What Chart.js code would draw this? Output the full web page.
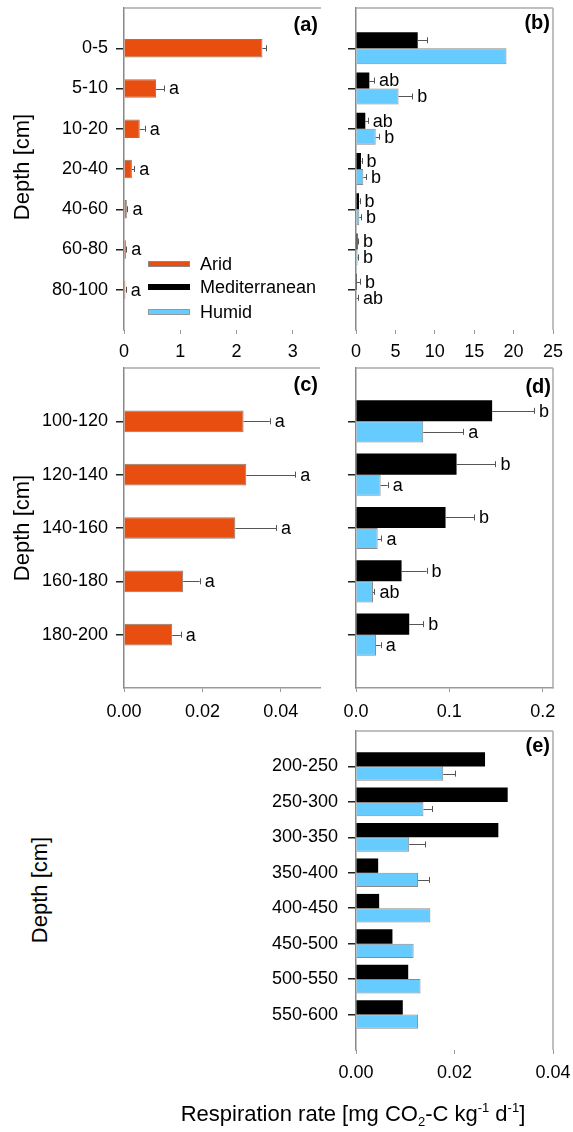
<!DOCTYPE html>
<html><head><meta charset="utf-8">
<script src="https://cdn.jsdelivr.net/npm/chart.js@4.4.1/dist/chart.umd.min.js"></script>
<style>
body{margin:0;background:#fff;}
#wrap{position:relative;width:573px;height:1132px;overflow:hidden;font-family:'Liberation Sans',Arial,sans-serif;color:#000;}
canvas{position:absolute;}
.t{position:absolute;white-space:nowrap;line-height:1;}
.ylab{font-size:22px;transform:translate(-50%,-50%) rotate(-90deg);}
.pl{font-size:20px;font-weight:bold;transform:translate(-100%,-50%);}
.lg{font-size:18px;transform:translate(0,-50%);}
.sw{position:absolute;width:42px;height:6px;box-sizing:border-box;}
.title{font-size:22px;transform:translate(-50%,-50%);}
.title sub{font-size:13px;vertical-align:-5px;}
.title sup{font-size:13px;vertical-align:9px;}
</style></head>
<body>
<div id="wrap">
<canvas id="ca"></canvas><canvas id="cb"></canvas><canvas id="cc"></canvas><canvas id="cd"></canvas><canvas id="ce"></canvas>
<div class="t ylab" style="left:22px;top:167px">Depth [cm]</div>
<div class="t ylab" style="left:22px;top:528px">Depth [cm]</div>
<div class="t ylab" style="left:40px;top:890px">Depth [cm]</div>
<div class="t pl" style="left:318px;top:24px">(a)</div>
<div class="t pl" style="left:550px;top:22px">(b)</div>
<div class="t pl" style="left:318px;top:384px">(c)</div>
<div class="t pl" style="left:551px;top:386px">(d)</div>
<div class="t pl" style="left:550px;top:745px">(e)</div>
<div class="sw" style="left:148px;top:261px;background:#E84E0F;border:1px solid #888"></div>
<div class="sw" style="left:148px;top:284px;background:#000"></div>
<div class="sw" style="left:148px;top:309px;background:#66CCFF;border:1px solid #999"></div>
<div class="t lg" style="left:200px;top:264px">Arid</div>
<div class="t lg" style="left:200px;top:287px">Mediterranean</div>
<div class="t lg" style="left:200px;top:312px">Humid</div>
<div class="t title" style="left:353px;top:1114px">Respiration rate [mg CO<sub>2</sub>-C kg<sup>-1</sup> d<sup>-1</sup>]</div>
</div>
<script>
const FONT = "'Liberation Sans', Arial, sans-serif";

// ---- data ----
const depthTop = ['0-5','5-10','10-20','20-40','40-60','60-80','80-100'];
const aridTop = [2.46, 0.57, 0.28, 0.14, 0.05, 0.035, 0.025];
const aridTopErr = [2.53, 0.71, 0.37, 0.18, 0.06, 0.04, 0.03];
const aridTopLet = ['', 'a', 'a', 'a', 'a', 'a', 'a'];
const medTop = [7.83, 1.69, 1.18, 0.63, 0.38, 0.2, 0.12];
const medTopErr = [9.05, 2.3, 1.5, 0.7, 0.45, 0.25, 0.5];
const medTopLet = ['', 'ab', 'ab', 'b', 'b', 'b', 'b'];
const humTop = [19.1, 5.4, 2.5, 0.93, 0.42, 0.2, 0.08];
const humTopErr = [null, 7.15, 2.96, 1.27, 0.65, 0.25, 0.25];
const humTopLet = ['', 'b', 'b', 'b', 'b', 'b', 'ab'];

const depthMid = ['100-120','120-140','140-160','160-180','180-200'];
const aridMid = [0.0305, 0.0312, 0.0284, 0.0151, 0.0123];
const aridMidErr = [0.0372, 0.0437, 0.0388, 0.0193, 0.0145];
const aridMidLet = ['a', 'a', 'a', 'a', 'a'];
const medMid = [0.1458, 0.1077, 0.0959, 0.0488, 0.057];
const medMidErr = [0.1907, 0.1494, 0.1265, 0.0756, 0.072];
const medMidLet = ['b', 'b', 'b', 'b', 'b'];
const humMid = [0.072, 0.0264, 0.0232, 0.0182, 0.0214];
const humMidErr = [0.1148, 0.0339, 0.0273, 0.0198, 0.0264];
const humMidLet = ['a', 'a', 'a', 'ab', 'a'];

const depthDeep = ['200-250','250-300','300-350','350-400','400-450','450-500','500-550','550-600'];
const medDeep = [0.0262, 0.0308, 0.0289, 0.0045, 0.0047, 0.0074, 0.0106, 0.0095];
const humDeep = [0.0177, 0.0137, 0.0108, 0.0126, 0.0151, 0.0117, 0.0131, 0.0126];
const humDeepErr = [0.0202, 0.0154, 0.0141, 0.0148, null, null, null, null];

const ticksA = [0, 1, 2, 3];
const ticksB = [0, 5, 10, 15, 20, 25];
const ticksC = [0, 0.02, 0.04];
const ticksD = [0, 0.1, 0.2];
const ticksE = [0, 0.02, 0.04];

// ---- styles ----
const C_ARID = '#E84E0F', C_MED = '#000000', C_HUM = '#66CCFF';

const pad = a => [null, ...a, null];
const padL = a => ['', ...a, ''];

const decor = {
  id: 'decor',
  afterDatasetsDraw(chart, args, opts) {
    const ctx = chart.ctx, xs = chart.scales.x;
    chart.data.datasets.forEach((ds, di) => {
      const meta = chart.getDatasetMeta(di);
      meta.data.forEach((bar, i) => {
        const v = ds.data[i];
        if (v == null) return;
        const y = bar.y;
        let end = xs.getPixelForValue(v);
        const e = ds.errs ? ds.errs[i] : null;
        ctx.save();
        if (e != null) {
          const xe = xs.getPixelForValue(e);
          ctx.strokeStyle = '#555';
          ctx.lineWidth = 1;
          ctx.beginPath();
          ctx.moveTo(end, Math.round(y) + 0.5); ctx.lineTo(xe, Math.round(y) + 0.5);
          ctx.moveTo(Math.round(xe) + 0.5, y - 3); ctx.lineTo(Math.round(xe) + 0.5, y + 3);
          ctx.stroke();
          end = Math.max(end, xe);
        }
        const L = ds.letters ? ds.letters[i] : '';
        if (L) {
          ctx.fillStyle = '#000';
          ctx.font = '18px ' + FONT;
          ctx.textAlign = 'left';
          ctx.textBaseline = 'middle';
          ctx.fillText(L, end + 5, y + 1);
        }
        ctx.restore();
      });
    });
  },
  afterDraw(chart, args, opts) {
    const ctx = chart.ctx, c = chart.chartArea;
    ctx.save();
    ctx.lineWidth = 1.5;
    ctx.strokeStyle = '#aaa';
    if (opts.top) { ctx.beginPath(); ctx.moveTo(c.left, c.top); ctx.lineTo(c.right, c.top); ctx.stroke(); }
    if (opts.right) { ctx.beginPath(); ctx.moveTo(c.right, c.top); ctx.lineTo(c.right, c.bottom); ctx.stroke(); }
    ctx.restore();
  }
};

function zeroPad(s) { s.paddingTop = 0; s.paddingBottom = 0; s.paddingLeft = 0; s.paddingRight = 0; }

function makePanel(id, box, area, o) {
  const cv = document.getElementById(id);
  cv.width = box.w; cv.height = box.h;
  Object.assign(cv.style, { left: box.l + 'px', top: box.t + 'px', width: box.w + 'px', height: box.h + 'px' });
  const yW = area.l - box.l, xH = box.t + box.h - area.b;
  const labels = padL(o.cats);
  new Chart(cv, {
    type: 'bar',
    data: {
      labels,
      datasets: o.series.map(s => ({
        label: s.name, data: pad(s.vals),
        errs: s.errs ? pad(s.errs) : null,
        letters: s.letters ? padL(s.letters) : null,
        backgroundColor: s.color, borderColor: s.border || s.color, borderWidth: s.border ? 1 : 0,
        categoryPercentage: o.cp, barPercentage: o.bp
      }))
    },
    options: {
      indexAxis: 'y', responsive: false, animation: false, devicePixelRatio: 1,
      layout: { autoPadding: false, padding: { left: 0, top: area.t - box.t, right: box.l + box.w - area.r, bottom: 0 } },
      plugins: { legend: { display: false }, tooltip: { enabled: false }, decor: { top: true, right: o.frameRight } },
      scales: {
        x: {
          type: 'linear', min: 0, max: o.max,
          afterBuildTicks: s => { s.ticks = o.ticks.map(v => ({ value: v })); },
          afterFit: s => { s.height = xH; zeroPad(s); },
          ticks: { callback: v => Number(v).toFixed(o.dec), font: { family: FONT, size: 18 }, color: '#000', padding: o.xpad, maxRotation: 0, autoSkip: false },
          grid: { drawOnChartArea: false, drawTicks: true, tickLength: 4, tickColor: '#999', lineWidth: 1 },
          border: { display: o.xBorder, color: '#999', width: 1.5 }
        },
        y: {
          type: 'category', offset: false,
          afterFit: s => { s.width = yW; zeroPad(s); },
          ticks: { display: o.showY, font: { family: FONT, size: 18 }, color: '#000', padding: o.ypad, autoSkip: false },
          grid: { offset: false, drawOnChartArea: false, drawTicks: true, tickLength: 8, lineWidth: 1.5,
                  tickColor: c => (labels[c.index] ? '#222' : 'rgba(0,0,0,0)') },
          border: { display: true, color: '#888', width: 1.5 }
        }
      }
    },
    plugins: [decor]
  });
}

makePanel('ca', { l: 0, t: 0, w: 340, h: 372 }, { l: 124, t: 8, r: 321, b: 330 }, {
  cats: depthTop, max: 3.5, ticks: ticksA, dec: 0, xpad: 7, ypad: 8, xBorder: false, frameRight: false, showY: true,
  cp: 1, bp: 0.46,
  series: [{ name: 'Arid', vals: aridTop, errs: aridTopErr, letters: aridTopLet, color: C_ARID, border: 'rgba(70,70,70,0.7)' }]
});
makePanel('cb', { l: 340, t: 0, w: 233, h: 372 }, { l: 356, t: 8, r: 553, b: 330 }, {
  cats: depthTop, max: 25, ticks: ticksB, dec: 0, xpad: 7, ypad: 8, xBorder: false, frameRight: true, showY: false,
  cp: 0.795, bp: 1,
  series: [
    { name: 'Mediterranean', vals: medTop, errs: medTopErr, letters: medTopLet, color: C_MED },
    { name: 'Humid', vals: humTop, errs: humTopErr, letters: humTopLet, color: C_HUM, border: 'rgba(90,90,90,0.7)' }
  ]
});
makePanel('cc', { l: 0, t: 355, w: 340, h: 380 }, { l: 124, t: 368, r: 320, b: 688 }, {
  cats: depthMid, max: 0.05, ticks: ticksC, dec: 2, xpad: 9, ypad: 8, xBorder: true, frameRight: false, showY: true,
  cp: 1, bp: 0.405,
  series: [{ name: 'Arid', vals: aridMid, errs: aridMidErr, letters: aridMidLet, color: C_ARID, border: 'rgba(70,70,70,0.7)' }]
});
makePanel('cd', { l: 340, t: 355, w: 233, h: 380 }, { l: 356, t: 368, r: 553, b: 688 }, {
  cats: depthMid, max: 0.211, ticks: ticksD, dec: 1, xpad: 9, ypad: 8, xBorder: true, frameRight: true, showY: false,
  cp: 0.79, bp: 1,
  series: [
    { name: 'Mediterranean', vals: medMid, errs: medMidErr, letters: medMidLet, color: C_MED },
    { name: 'Humid', vals: humMid, errs: humMidErr, letters: humMidLet, color: C_HUM, border: 'rgba(90,90,90,0.7)' }
  ]
});
makePanel('ce', { l: 150, t: 720, w: 423, h: 380 }, { l: 356, t: 731, r: 553, b: 1050 }, {
  cats: depthDeep, max: 0.04, ticks: ticksE, dec: 2, xpad: 8, ypad: 10, xBorder: false, frameRight: true, showY: true,
  cp: 0.807, bp: 1,
  series: [
    { name: 'Mediterranean', vals: medDeep, color: C_MED },
    { name: 'Humid', vals: humDeep, errs: humDeepErr, color: C_HUM, border: 'rgba(90,90,90,0.7)' }
  ]
});
</script>
</body></html>
